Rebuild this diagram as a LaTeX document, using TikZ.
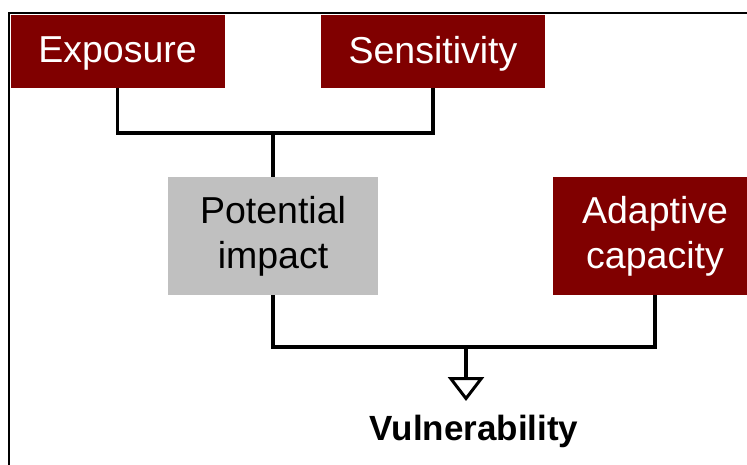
\documentclass[tikz,border=0pt]{standalone}
\usepackage{fontspec}
\setmainfont{Liberation Sans}
\usetikzlibrary{arrows.meta}
\definecolor{dred}{RGB}{128,0,0}
\definecolor{lgray}{RGB}{192,192,192}
\tikzset{
  boxfont/.style={font=\fontsize{37.5}{45}\selectfont},
  redbox/.style={boxfont, fill=dred, text=white, inner sep=0pt, align=center, minimum height=73pt},
  onelinebox/.style={redbox, text depth=4pt},
  graybox/.style={boxfont, fill=lgray, text=black, inner sep=0pt, align=center},
  conn/.style={line width=3.5pt, draw=black, line join=miter},
}
\begin{document}
\begin{tikzpicture}[x=1pt,y=-1pt]
\useasboundingbox (0,0) rectangle (747,465);
\draw[line width=2pt] (747,13) -- (9,13) -- (9,465);
\node[onelinebox, minimum width=214pt] (exp) at (117.5,51.5) {Exposure};
\node[onelinebox, minimum width=224pt] (sen) at (433,51.5) {Sensitivity};
\node[graybox, minimum width=210pt, minimum height=118pt] (pot) at (273,236) {Potential\\impact};
\node[redbox, minimum width=204pt, minimum height=118pt] (ada) at (655,236) {Adaptive\\capacity};
\node[font=\fontsize{35}{42}\selectfont\bfseries, anchor=base] (vul) at (474,440) {Vulnerability};
\coordinate (top) at (273,133);
\coordinate (bot) at (466,347);
\coordinate (tip) at (466,401);
\draw[conn] (exp.south) -- (exp.south |- top) -- (sen.south |- top) -- (sen.south);
\draw[conn] (top) -- (pot.north);
\draw[conn] (pot.south) -- (pot.south |- bot) -- (ada.south |- bot) -- (ada.south);
\draw[conn, -{Triangle[open, fill=white, length=24pt, width=36pt, line width=3pt]}] (bot) -- (tip);
\end{tikzpicture}
\end{document}
